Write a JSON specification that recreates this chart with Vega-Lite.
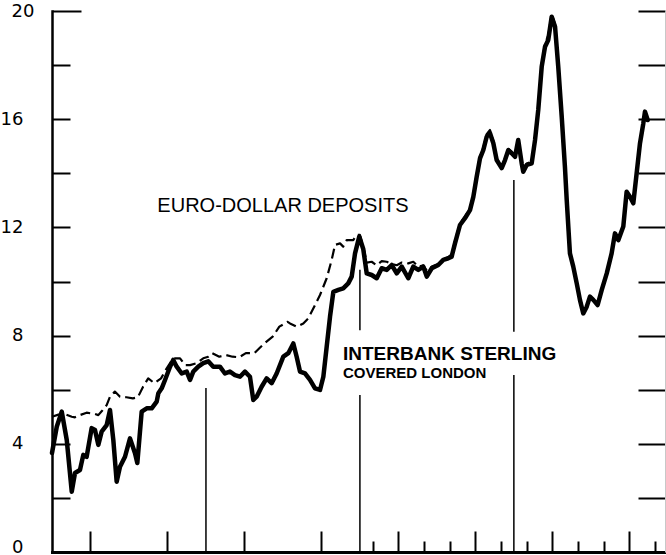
{
  "$schema": "https://vega.github.io/schema/vega-lite/v6.json",
  "width": 613,
  "height": 541,
  "autosize": {"type": "none"},
  "padding": {"left": 52, "top": 11, "right": 1, "bottom": 3},
  "background": "white",
  "config": {
    "view": {"stroke": null},
    "axis": {"grid": false, "title": null, "domainColor": "black", "tickColor": "black", "labelColor": "black"}
  },
  "datasets": {
    "rates": [
      {"t": 0, "rate": 3.66, "series": "Interbank sterling covered London"},
      {"t": 0.37, "rate": 4.63, "series": "Interbank sterling covered London"},
      {"t": 0.76, "rate": 5.19, "series": "Interbank sterling covered London"},
      {"t": 1.15, "rate": 4.14, "series": "Interbank sterling covered London"},
      {"t": 1.54, "rate": 2.23, "series": "Interbank sterling covered London"},
      {"t": 1.79, "rate": 2.92, "series": "Interbank sterling covered London"},
      {"t": 2.18, "rate": 3.03, "series": "Interbank sterling covered London"},
      {"t": 2.44, "rate": 3.59, "series": "Interbank sterling covered London"},
      {"t": 2.7, "rate": 3.52, "series": "Interbank sterling covered London"},
      {"t": 3.09, "rate": 4.58, "series": "Interbank sterling covered London"},
      {"t": 3.35, "rate": 4.51, "series": "Interbank sterling covered London"},
      {"t": 3.61, "rate": 3.96, "series": "Interbank sterling covered London"},
      {"t": 3.87, "rate": 4.45, "series": "Interbank sterling covered London"},
      {"t": 4.26, "rate": 4.69, "series": "Interbank sterling covered London"},
      {"t": 4.52, "rate": 5.25, "series": "Interbank sterling covered London"},
      {"t": 4.78, "rate": 4.14, "series": "Interbank sterling covered London"},
      {"t": 5.04, "rate": 2.6, "series": "Interbank sterling covered London"},
      {"t": 5.3, "rate": 3.15, "series": "Interbank sterling covered London"},
      {"t": 5.69, "rate": 3.52, "series": "Interbank sterling covered London"},
      {"t": 6.08, "rate": 4.2, "series": "Interbank sterling covered London"},
      {"t": 6.47, "rate": 3.65, "series": "Interbank sterling covered London"},
      {"t": 6.65, "rate": 3.29, "series": "Interbank sterling covered London"},
      {"t": 6.99, "rate": 5.19, "series": "Interbank sterling covered London"},
      {"t": 7.38, "rate": 5.31, "series": "Interbank sterling covered London"},
      {"t": 7.77, "rate": 5.31, "series": "Interbank sterling covered London"},
      {"t": 8.16, "rate": 5.56, "series": "Interbank sterling covered London"},
      {"t": 8.29, "rate": 5.87, "series": "Interbank sterling covered London"},
      {"t": 8.55, "rate": 6.05, "series": "Interbank sterling covered London"},
      {"t": 8.81, "rate": 6.36, "series": "Interbank sterling covered London"},
      {"t": 9.2, "rate": 6.85, "series": "Interbank sterling covered London"},
      {"t": 9.45, "rate": 7.1, "series": "Interbank sterling covered London"},
      {"t": 9.72, "rate": 6.85, "series": "Interbank sterling covered London"},
      {"t": 10.11, "rate": 6.6, "series": "Interbank sterling covered London"},
      {"t": 10.5, "rate": 6.67, "series": "Interbank sterling covered London"},
      {"t": 10.76, "rate": 6.36, "series": "Interbank sterling covered London"},
      {"t": 11.01, "rate": 6.67, "series": "Interbank sterling covered London"},
      {"t": 11.4, "rate": 6.85, "series": "Interbank sterling covered London"},
      {"t": 11.79, "rate": 6.98, "series": "Interbank sterling covered London"},
      {"t": 12.18, "rate": 7.05, "series": "Interbank sterling covered London"},
      {"t": 12.57, "rate": 6.85, "series": "Interbank sterling covered London"},
      {"t": 13.09, "rate": 6.85, "series": "Interbank sterling covered London"},
      {"t": 13.48, "rate": 6.6, "series": "Interbank sterling covered London"},
      {"t": 13.87, "rate": 6.67, "series": "Interbank sterling covered London"},
      {"t": 14.26, "rate": 6.54, "series": "Interbank sterling covered London"},
      {"t": 14.65, "rate": 6.48, "series": "Interbank sterling covered London"},
      {"t": 15.04, "rate": 6.67, "series": "Interbank sterling covered London"},
      {"t": 15.43, "rate": 6.48, "series": "Interbank sterling covered London"},
      {"t": 15.69, "rate": 5.62, "series": "Interbank sterling covered London"},
      {"t": 15.95, "rate": 5.74, "series": "Interbank sterling covered London"},
      {"t": 16.34, "rate": 6.11, "series": "Interbank sterling covered London"},
      {"t": 16.73, "rate": 6.42, "series": "Interbank sterling covered London"},
      {"t": 17.12, "rate": 6.24, "series": "Interbank sterling covered London"},
      {"t": 17.51, "rate": 6.6, "series": "Interbank sterling covered London"},
      {"t": 18.03, "rate": 7.22, "series": "Interbank sterling covered London"},
      {"t": 18.42, "rate": 7.35, "series": "Interbank sterling covered London"},
      {"t": 18.81, "rate": 7.71, "series": "Interbank sterling covered London"},
      {"t": 19.07, "rate": 7.22, "series": "Interbank sterling covered London"},
      {"t": 19.33, "rate": 6.67, "series": "Interbank sterling covered London"},
      {"t": 19.72, "rate": 6.6, "series": "Interbank sterling covered London"},
      {"t": 20.11, "rate": 6.36, "series": "Interbank sterling covered London"},
      {"t": 20.5, "rate": 6.05, "series": "Interbank sterling covered London"},
      {"t": 20.89, "rate": 5.99, "series": "Interbank sterling covered London"},
      {"t": 21.15, "rate": 6.48, "series": "Interbank sterling covered London"},
      {"t": 21.41, "rate": 7.59, "series": "Interbank sterling covered London"},
      {"t": 21.67, "rate": 8.7, "series": "Interbank sterling covered London"},
      {"t": 21.93, "rate": 9.62, "series": "Interbank sterling covered London"},
      {"t": 22.32, "rate": 9.69, "series": "Interbank sterling covered London"},
      {"t": 22.7, "rate": 9.75, "series": "Interbank sterling covered London"},
      {"t": 23.09, "rate": 9.93, "series": "Interbank sterling covered London"},
      {"t": 23.36, "rate": 10.18, "series": "Interbank sterling covered London"},
      {"t": 23.62, "rate": 11.04, "series": "Interbank sterling covered London"},
      {"t": 23.95, "rate": 11.66, "series": "Interbank sterling covered London"},
      {"t": 24.26, "rate": 11.2, "series": "Interbank sterling covered London"},
      {"t": 24.53, "rate": 10.3, "series": "Interbank sterling covered London"},
      {"t": 24.92, "rate": 10.24, "series": "Interbank sterling covered London"},
      {"t": 25.31, "rate": 10.12, "series": "Interbank sterling covered London"},
      {"t": 25.7, "rate": 10.49, "series": "Interbank sterling covered London"},
      {"t": 26.09, "rate": 10.43, "series": "Interbank sterling covered London"},
      {"t": 26.48, "rate": 10.61, "series": "Interbank sterling covered London"},
      {"t": 26.87, "rate": 10.3, "series": "Interbank sterling covered London"},
      {"t": 27.26, "rate": 10.55, "series": "Interbank sterling covered London"},
      {"t": 27.77, "rate": 10.12, "series": "Interbank sterling covered London"},
      {"t": 28.16, "rate": 10.55, "series": "Interbank sterling covered London"},
      {"t": 28.55, "rate": 10.43, "series": "Interbank sterling covered London"},
      {"t": 28.94, "rate": 10.55, "series": "Interbank sterling covered London"},
      {"t": 29.21, "rate": 10.18, "series": "Interbank sterling covered London"},
      {"t": 29.6, "rate": 10.49, "series": "Interbank sterling covered London"},
      {"t": 30.11, "rate": 10.61, "series": "Interbank sterling covered London"},
      {"t": 30.5, "rate": 10.8, "series": "Interbank sterling covered London"},
      {"t": 30.89, "rate": 10.86, "series": "Interbank sterling covered London"},
      {"t": 31.15, "rate": 10.92, "series": "Interbank sterling covered London"},
      {"t": 31.41, "rate": 11.41, "series": "Interbank sterling covered London"},
      {"t": 31.8, "rate": 12.09, "series": "Interbank sterling covered London"},
      {"t": 32.19, "rate": 12.34, "series": "Interbank sterling covered London"},
      {"t": 32.58, "rate": 12.64, "series": "Interbank sterling covered London"},
      {"t": 32.84, "rate": 13.13, "series": "Interbank sterling covered London"},
      {"t": 33.1, "rate": 13.87, "series": "Interbank sterling covered London"},
      {"t": 33.36, "rate": 14.55, "series": "Interbank sterling covered London"},
      {"t": 33.62, "rate": 14.86, "series": "Interbank sterling covered London"},
      {"t": 33.88, "rate": 15.35, "series": "Interbank sterling covered London"},
      {"t": 34.14, "rate": 15.48, "series": "Interbank sterling covered London"},
      {"t": 34.4, "rate": 15.11, "series": "Interbank sterling covered London"},
      {"t": 34.66, "rate": 14.49, "series": "Interbank sterling covered London"},
      {"t": 35.05, "rate": 14.19, "series": "Interbank sterling covered London"},
      {"t": 35.31, "rate": 14.49, "series": "Interbank sterling covered London"},
      {"t": 35.57, "rate": 14.86, "series": "Interbank sterling covered London"},
      {"t": 35.83, "rate": 14.74, "series": "Interbank sterling covered London"},
      {"t": 36.09, "rate": 14.61, "series": "Interbank sterling covered London"},
      {"t": 36.34, "rate": 15.23, "series": "Interbank sterling covered London"},
      {"t": 36.61, "rate": 14.37, "series": "Interbank sterling covered London"},
      {"t": 36.73, "rate": 14.06, "series": "Interbank sterling covered London"},
      {"t": 37.0, "rate": 14.31, "series": "Interbank sterling covered London"},
      {"t": 37.39, "rate": 14.37, "series": "Interbank sterling covered London"},
      {"t": 37.65, "rate": 15.23, "series": "Interbank sterling covered London"},
      {"t": 37.9, "rate": 16.34, "series": "Interbank sterling covered London"},
      {"t": 38.17, "rate": 17.94, "series": "Interbank sterling covered London"},
      {"t": 38.43, "rate": 18.68, "series": "Interbank sterling covered London"},
      {"t": 38.68, "rate": 18.93, "series": "Interbank sterling covered London"},
      {"t": 38.95, "rate": 19.79, "series": "Interbank sterling covered London"},
      {"t": 39.21, "rate": 19.42, "series": "Interbank sterling covered London"},
      {"t": 39.46, "rate": 17.94, "series": "Interbank sterling covered London"},
      {"t": 39.73, "rate": 16.09, "series": "Interbank sterling covered London"},
      {"t": 39.98, "rate": 14.24, "series": "Interbank sterling covered London"},
      {"t": 40.12, "rate": 13.01, "series": "Interbank sterling covered London"},
      {"t": 40.37, "rate": 11.04, "series": "Interbank sterling covered London"},
      {"t": 40.63, "rate": 10.55, "series": "Interbank sterling covered London"},
      {"t": 40.9, "rate": 9.93, "series": "Interbank sterling covered London"},
      {"t": 41.15, "rate": 9.32, "series": "Interbank sterling covered London"},
      {"t": 41.41, "rate": 8.82, "series": "Interbank sterling covered London"},
      {"t": 41.68, "rate": 9.07, "series": "Interbank sterling covered London"},
      {"t": 41.93, "rate": 9.44, "series": "Interbank sterling covered London"},
      {"t": 42.19, "rate": 9.32, "series": "Interbank sterling covered London"},
      {"t": 42.53, "rate": 9.13, "series": "Interbank sterling covered London"},
      {"t": 42.85, "rate": 9.69, "series": "Interbank sterling covered London"},
      {"t": 43.24, "rate": 10.3, "series": "Interbank sterling covered London"},
      {"t": 43.62, "rate": 11.04, "series": "Interbank sterling covered London"},
      {"t": 43.88, "rate": 11.78, "series": "Interbank sterling covered London"},
      {"t": 44.14, "rate": 11.53, "series": "Interbank sterling covered London"},
      {"t": 44.53, "rate": 12.03, "series": "Interbank sterling covered London"},
      {"t": 44.79, "rate": 13.32, "series": "Interbank sterling covered London"},
      {"t": 45.05, "rate": 13.13, "series": "Interbank sterling covered London"},
      {"t": 45.31, "rate": 12.89, "series": "Interbank sterling covered London"},
      {"t": 45.57, "rate": 14.0, "series": "Interbank sterling covered London"},
      {"t": 45.83, "rate": 15.11, "series": "Interbank sterling covered London"},
      {"t": 46.09, "rate": 15.85, "series": "Interbank sterling covered London"},
      {"t": 46.22, "rate": 16.28, "series": "Interbank sterling covered London"},
      {"t": 46.43, "rate": 15.97, "series": "Interbank sterling covered London"},

      {"t": 0, "rate": 5.0, "series": "Euro-dollar deposits"},
      {"t": 0.5, "rate": 5.08, "series": "Euro-dollar deposits"},
      {"t": 1.0, "rate": 5.1, "series": "Euro-dollar deposits"},
      {"t": 1.54, "rate": 5.0, "series": "Euro-dollar deposits"},
      {"t": 1.79, "rate": 4.98, "series": "Euro-dollar deposits"},
      {"t": 2.18, "rate": 5.06, "series": "Euro-dollar deposits"},
      {"t": 2.7, "rate": 5.15, "series": "Euro-dollar deposits"},
      {"t": 3.35, "rate": 5.1, "series": "Euro-dollar deposits"},
      {"t": 3.61, "rate": 5.06, "series": "Euro-dollar deposits"},
      {"t": 3.87, "rate": 5.2, "series": "Euro-dollar deposits"},
      {"t": 4.26, "rate": 5.43, "series": "Euro-dollar deposits"},
      {"t": 4.52, "rate": 5.74, "series": "Euro-dollar deposits"},
      {"t": 4.9, "rate": 5.93, "series": "Euro-dollar deposits"},
      {"t": 5.3, "rate": 5.74, "series": "Euro-dollar deposits"},
      {"t": 5.8, "rate": 5.72, "series": "Euro-dollar deposits"},
      {"t": 6.3, "rate": 5.68, "series": "Euro-dollar deposits"},
      {"t": 6.69, "rate": 5.72, "series": "Euro-dollar deposits"},
      {"t": 7.1, "rate": 6.11, "series": "Euro-dollar deposits"},
      {"t": 7.5, "rate": 6.42, "series": "Euro-dollar deposits"},
      {"t": 7.98, "rate": 6.24, "series": "Euro-dollar deposits"},
      {"t": 8.5, "rate": 6.42, "series": "Euro-dollar deposits"},
      {"t": 8.94, "rate": 6.79, "series": "Euro-dollar deposits"},
      {"t": 9.45, "rate": 7.16, "series": "Euro-dollar deposits"},
      {"t": 9.98, "rate": 7.16, "series": "Euro-dollar deposits"},
      {"t": 10.37, "rate": 6.91, "series": "Euro-dollar deposits"},
      {"t": 10.76, "rate": 6.91, "series": "Euro-dollar deposits"},
      {"t": 11.27, "rate": 6.98, "series": "Euro-dollar deposits"},
      {"t": 11.79, "rate": 7.16, "series": "Euro-dollar deposits"},
      {"t": 12.18, "rate": 7.22, "series": "Euro-dollar deposits"},
      {"t": 12.5, "rate": 7.35, "series": "Euro-dollar deposits"},
      {"t": 13.04, "rate": 7.22, "series": "Euro-dollar deposits"},
      {"t": 13.56, "rate": 7.28, "series": "Euro-dollar deposits"},
      {"t": 14.07, "rate": 7.22, "series": "Euro-dollar deposits"},
      {"t": 14.6, "rate": 7.2, "series": "Euro-dollar deposits"},
      {"t": 15.11, "rate": 7.35, "series": "Euro-dollar deposits"},
      {"t": 15.77, "rate": 7.35, "series": "Euro-dollar deposits"},
      {"t": 16.16, "rate": 7.53, "series": "Euro-dollar deposits"},
      {"t": 16.55, "rate": 7.71, "series": "Euro-dollar deposits"},
      {"t": 17.2, "rate": 7.96, "series": "Euro-dollar deposits"},
      {"t": 17.72, "rate": 8.33, "series": "Euro-dollar deposits"},
      {"t": 18.36, "rate": 8.51, "series": "Euro-dollar deposits"},
      {"t": 18.55, "rate": 8.45, "series": "Euro-dollar deposits"},
      {"t": 19.07, "rate": 8.33, "series": "Euro-dollar deposits"},
      {"t": 19.59, "rate": 8.45, "series": "Euro-dollar deposits"},
      {"t": 19.98, "rate": 8.64, "series": "Euro-dollar deposits"},
      {"t": 20.5, "rate": 9.13, "series": "Euro-dollar deposits"},
      {"t": 20.89, "rate": 9.5, "series": "Euro-dollar deposits"},
      {"t": 21.41, "rate": 10.12, "series": "Euro-dollar deposits"},
      {"t": 21.8, "rate": 10.8, "series": "Euro-dollar deposits"},
      {"t": 22.06, "rate": 11.35, "series": "Euro-dollar deposits"},
      {"t": 22.45, "rate": 11.41, "series": "Euro-dollar deposits"},
      {"t": 22.7, "rate": 11.29, "series": "Euro-dollar deposits"},
      {"t": 22.97, "rate": 11.53, "series": "Euro-dollar deposits"},
      {"t": 23.48, "rate": 11.53, "series": "Euro-dollar deposits"},
      {"t": 23.75, "rate": 11.72, "series": "Euro-dollar deposits"},
      {"t": 24.0, "rate": 11.72, "series": "Euro-dollar deposits"},
      {"t": 24.26, "rate": 11.3, "series": "Euro-dollar deposits"},
      {"t": 24.53, "rate": 10.7, "series": "Euro-dollar deposits"},
      {"t": 24.92, "rate": 10.73, "series": "Euro-dollar deposits"},
      {"t": 25.31, "rate": 10.6, "series": "Euro-dollar deposits"},
      {"t": 25.7, "rate": 10.75, "series": "Euro-dollar deposits"},
      {"t": 26.09, "rate": 10.73, "series": "Euro-dollar deposits"},
      {"t": 26.48, "rate": 10.65, "series": "Euro-dollar deposits"},
      {"t": 26.87, "rate": 10.6, "series": "Euro-dollar deposits"},
      {"t": 27.26, "rate": 10.7, "series": "Euro-dollar deposits"},
      {"t": 27.77, "rate": 10.67, "series": "Euro-dollar deposits"},
      {"t": 28.16, "rate": 10.73, "series": "Euro-dollar deposits"},
      {"t": 28.55, "rate": 10.55, "series": "Euro-dollar deposits"},
      {"t": 28.94, "rate": 10.6, "series": "Euro-dollar deposits"},
      {"t": 29.21, "rate": 10.4, "series": "Euro-dollar deposits"},
      {"t": 29.6, "rate": 10.55, "series": "Euro-dollar deposits"},
      {"t": 30.11, "rate": 10.65, "series": "Euro-dollar deposits"},
      {"t": 30.5, "rate": 10.82, "series": "Euro-dollar deposits"},
      {"t": 30.89, "rate": 10.9, "series": "Euro-dollar deposits"},
      {"t": 31.15, "rate": 11.0, "series": "Euro-dollar deposits"},
      {"t": 31.41, "rate": 11.5, "series": "Euro-dollar deposits"},
      {"t": 31.8, "rate": 12.15, "series": "Euro-dollar deposits"},
      {"t": 32.19, "rate": 12.4, "series": "Euro-dollar deposits"},
      {"t": 32.58, "rate": 12.7, "series": "Euro-dollar deposits"},
      {"t": 32.84, "rate": 13.2, "series": "Euro-dollar deposits"},
      {"t": 33.1, "rate": 13.95, "series": "Euro-dollar deposits"},
      {"t": 33.36, "rate": 14.65, "series": "Euro-dollar deposits"},
      {"t": 33.62, "rate": 14.95, "series": "Euro-dollar deposits"},
      {"t": 33.88, "rate": 15.45, "series": "Euro-dollar deposits"},
      {"t": 34.14, "rate": 15.6, "series": "Euro-dollar deposits"},
      {"t": 34.4, "rate": 15.2, "series": "Euro-dollar deposits"},
      {"t": 34.66, "rate": 14.55, "series": "Euro-dollar deposits"},
      {"t": 35.05, "rate": 14.25, "series": "Euro-dollar deposits"},
      {"t": 35.31, "rate": 14.5, "series": "Euro-dollar deposits"},
      {"t": 35.57, "rate": 14.9, "series": "Euro-dollar deposits"},
      {"t": 35.83, "rate": 14.8, "series": "Euro-dollar deposits"},
      {"t": 36.09, "rate": 14.65, "series": "Euro-dollar deposits"},
      {"t": 36.34, "rate": 15.2, "series": "Euro-dollar deposits"},
      {"t": 36.61, "rate": 14.4, "series": "Euro-dollar deposits"},
      {"t": 36.73, "rate": 14.1, "series": "Euro-dollar deposits"},
      {"t": 37.0, "rate": 14.35, "series": "Euro-dollar deposits"},
      {"t": 37.39, "rate": 14.45, "series": "Euro-dollar deposits"},
      {"t": 37.65, "rate": 15.3, "series": "Euro-dollar deposits"},
      {"t": 37.9, "rate": 16.45, "series": "Euro-dollar deposits"},
      {"t": 38.17, "rate": 18.05, "series": "Euro-dollar deposits"},
      {"t": 38.43, "rate": 18.8, "series": "Euro-dollar deposits"},
      {"t": 38.68, "rate": 19.1, "series": "Euro-dollar deposits"},
      {"t": 38.95, "rate": 19.9, "series": "Euro-dollar deposits"},
      {"t": 39.21, "rate": 19.5, "series": "Euro-dollar deposits"},
      {"t": 39.46, "rate": 18.0, "series": "Euro-dollar deposits"},
      {"t": 39.73, "rate": 16.15, "series": "Euro-dollar deposits"},
      {"t": 39.98, "rate": 14.3, "series": "Euro-dollar deposits"},
      {"t": 40.12, "rate": 13.05, "series": "Euro-dollar deposits"},
      {"t": 40.37, "rate": 11.1, "series": "Euro-dollar deposits"},
      {"t": 40.63, "rate": 10.6, "series": "Euro-dollar deposits"},
      {"t": 40.9, "rate": 9.95, "series": "Euro-dollar deposits"},
      {"t": 41.15, "rate": 9.35, "series": "Euro-dollar deposits"},
      {"t": 41.41, "rate": 8.85, "series": "Euro-dollar deposits"},
      {"t": 41.68, "rate": 9.1, "series": "Euro-dollar deposits"},
      {"t": 41.93, "rate": 9.45, "series": "Euro-dollar deposits"},
      {"t": 42.19, "rate": 9.35, "series": "Euro-dollar deposits"},
      {"t": 42.53, "rate": 9.15, "series": "Euro-dollar deposits"},
      {"t": 42.85, "rate": 9.7, "series": "Euro-dollar deposits"},
      {"t": 43.24, "rate": 10.3, "series": "Euro-dollar deposits"},
      {"t": 43.62, "rate": 11.05, "series": "Euro-dollar deposits"},
      {"t": 43.88, "rate": 11.8, "series": "Euro-dollar deposits"},
      {"t": 44.14, "rate": 11.55, "series": "Euro-dollar deposits"},
      {"t": 44.53, "rate": 12.05, "series": "Euro-dollar deposits"},
      {"t": 44.79, "rate": 13.3, "series": "Euro-dollar deposits"},
      {"t": 45.05, "rate": 13.15, "series": "Euro-dollar deposits"},
      {"t": 45.31, "rate": 12.9, "series": "Euro-dollar deposits"},
      {"t": 45.57, "rate": 14.0, "series": "Euro-dollar deposits"},
      {"t": 45.83, "rate": 15.1, "series": "Euro-dollar deposits"},
      {"t": 46.09, "rate": 15.9, "series": "Euro-dollar deposits"},
      {"t": 46.22, "rate": 16.3, "series": "Euro-dollar deposits"},
      {"t": 46.43, "rate": 16.0, "series": "Euro-dollar deposits"}
    ],
    "dividers": [
      {"t": 12, "lo": 0, "hi": 6.06},
      {"t": 24, "lo": 0, "hi": 5.8},
      {"t": 24, "lo": 8.2, "hi": 10.43},
      {"t": 36, "lo": 0, "hi": 6.54},
      {"t": 36, "lo": 8.14, "hi": 13.75}
    ]
  },
  "resolve": {"axis": {"y": "independent"}},
  "layer": [
    {
      "data": {"name": "dividers"},
      "mark": {"type": "rule", "color": "black", "strokeWidth": 1.5},
      "encoding": {
        "x": {
          "field": "t", "type": "quantitative",
          "scale": {"domain": [0, 47.78], "nice": false, "zero": false},
          "axis": {
            "orient": "bottom",
            "values": [3, 6, 9, 12, 15, 18, 21, 24, 25, 26, 27, 28, 29, 30, 31, 32, 33, 34, 35, 36, 37, 38, 39, 40, 41, 42, 43, 44, 45, 46, 47],
            "labels": false,
            "domainWidth": 3,
            "domainCap": "square",
            "tickWidth": 2,
            "tickSize": {"condition": {"test": "datum.value % 3 == 0", "value": -21}, "value": -11}
          }
        },
        "y": {
          "field": "lo", "type": "quantitative",
          "scale": {"domain": [0, 20], "nice": false},
          "axis": {
            "orient": "left",
            "values": [0, 2, 4, 6, 8, 10, 12, 14, 16, 18, 20],
            "labelExpr": "datum.value % 4 == 0 ? datum.label : ''",
            "labelOverlap": false,
            "labelFont": "DejaVu Sans",
            "labelFontSize": 18,
            "labelPadding": 47,
            "labelBaseline": {"condition": {"test": "datum.value == 0", "value": "alphabetic"}, "value": "middle"},
            "domainWidth": 2.5,
            "domainCap": "square",
            "tickWidth": 2,
            "tickSize": {"condition": {"test": "datum.value == 20", "value": -29}, "value": -18}
          }
        },
        "y2": {"field": "hi"}
      }
    },
    {
      "data": {"name": "rates"},
      "transform": [{"filter": "datum.series == 'Euro-dollar deposits'"}],
      "mark": {"type": "line", "color": "black", "strokeWidth": 2.2, "strokeDash": [10, 5], "strokeJoin": "round"},
      "encoding": {
        "x": {"field": "t", "type": "quantitative"},
        "y": {
          "field": "rate", "type": "quantitative",
          "axis": {
            "orient": "right",
            "values": [0, 2, 4, 6, 8, 10, 12, 14, 16, 18, 20],
            "labels": false,
            "domainColor": "#c8c8c8",
            "domainWidth": 1,
            "tickWidth": 2,
            "tickSize": -27
          }
        }
      }
    },
    {
      "data": {"name": "rates"},
      "transform": [{"filter": "datum.series == 'Interbank sterling covered London'"}],
      "mark": {"type": "line", "color": "black", "strokeWidth": 4.5, "strokeJoin": "round", "strokeCap": "round"},
      "encoding": {
        "x": {"field": "t", "type": "quantitative"},
        "y": {"field": "rate", "type": "quantitative", "axis": null}
      }
    },
    {
      "data": {"values": [{"label": "EURO-DOLLAR DEPOSITS"}]},
      "mark": {"type": "text", "font": "Liberation Sans", "fontSize": 20, "align": "center", "baseline": "alphabetic", "color": "black"},
      "encoding": {
        "text": {"field": "label"},
        "x": {"datum": 18.0, "type": "quantitative"},
        "y": {"datum": 12.57, "type": "quantitative", "axis": null}
      }
    },
    {
      "data": {"values": [{"label": "INTERBANK STERLING"}]},
      "mark": {"type": "text", "font": "Liberation Sans", "fontSize": 19, "fontWeight": "bold", "align": "left", "baseline": "alphabetic", "color": "black"},
      "encoding": {
        "text": {"field": "label"},
        "x": {"datum": 22.68, "type": "quantitative"},
        "y": {"datum": 7.1, "type": "quantitative", "axis": null}
      }
    },
    {
      "data": {"values": [{"label": "COVERED LONDON"}]},
      "mark": {"type": "text", "font": "Liberation Sans", "fontSize": 15, "fontWeight": "bold", "align": "left", "baseline": "alphabetic", "color": "black"},
      "encoding": {
        "text": {"field": "label"},
        "x": {"datum": 22.68, "type": "quantitative"},
        "y": {"datum": 6.43, "type": "quantitative", "axis": null}
      }
    }
  ]
}
